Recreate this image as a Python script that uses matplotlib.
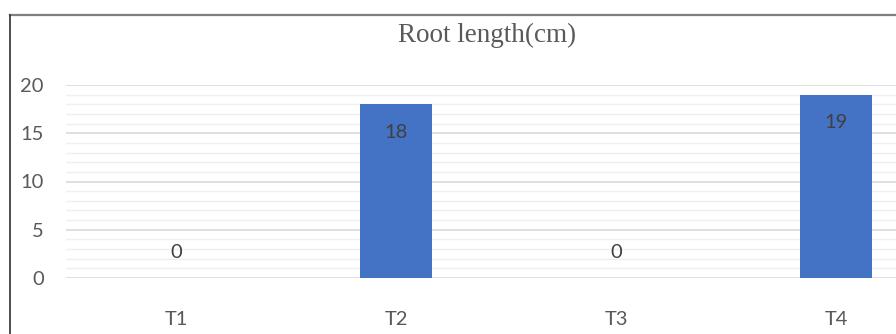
import numpy as np
import matplotlib.pyplot as plt
from matplotlib.lines import Line2D

categories = ['T1', 'T2', 'T3', 'T4']
root_length = [0, 18, 0, 19]
yticks = [0, 5, 10, 15, 20]

W, H = 896, 334
fig = plt.figure(figsize=(W / 100, H / 100), dpi=100)

# plot area runs past the right edge, as in the cropped original
ax = fig.add_axes([66 / W, 56 / H, 880 / W, 193 / H])

x = np.arange(len(categories))
bars = ax.bar(x, root_length, width=0.33, color='#4472C4', zorder=3)

ax.set_xlim(-0.5, len(categories) - 0.5)
ax.set_ylim(0, 20)
ax.set_yticks(yticks)
ax.set_yticks(np.arange(0, 21, 1), minor=True)
ax.set_xticks(x)
ax.set_xticklabels(categories)

ax.grid(axis='y', which='major', color='#d9d9d9', linewidth=1.2, zorder=0)
ax.grid(axis='y', which='minor', color='#efefef', linewidth=1.0, zorder=0)
for s in ax.spines.values():
    s.set_visible(False)
ax.tick_params(axis='both', which='both', length=0)
ax.tick_params(axis='y', pad=16, labelsize=14.5, labelcolor='#595959')
ax.tick_params(axis='x', pad=24, labelsize=14.5, labelcolor='#595959')
for lab in ax.get_xticklabels() + ax.get_yticklabels():
    lab.set_family('Lato')

for xi, v in zip(x, root_length):
    if v == 0:
        ax.annotate(str(v), (xi, v), xytext=(0, 18), textcoords='offset points',
                    ha='center', va='center', fontsize=14.5, color='#404040', family='Lato')
    else:
        ax.annotate(str(v), (xi, v), xytext=(0, -20), textcoords='offset points',
                    ha='center', va='center', fontsize=14.5, color='#404040', family='Lato')

fig.text(487 / W, 1 - 35 / H, 'Root length(cm)', ha='center', va='center',
         fontsize=19.5, color='#595959', family='Liberation Serif')

# chart frame (top and left edges visible)
fig.add_artist(Line2D([10 / W, 1], [1 - 15 / H, 1 - 15 / H], transform=fig.transFigure,
                      color='#7f7f7f', linewidth=1.6))
fig.add_artist(Line2D([10 / W, 10 / W], [0, 1 - 15 / H], transform=fig.transFigure,
                      color='#303030', linewidth=1.2))

fig.savefig('out.png', dpi=100)
